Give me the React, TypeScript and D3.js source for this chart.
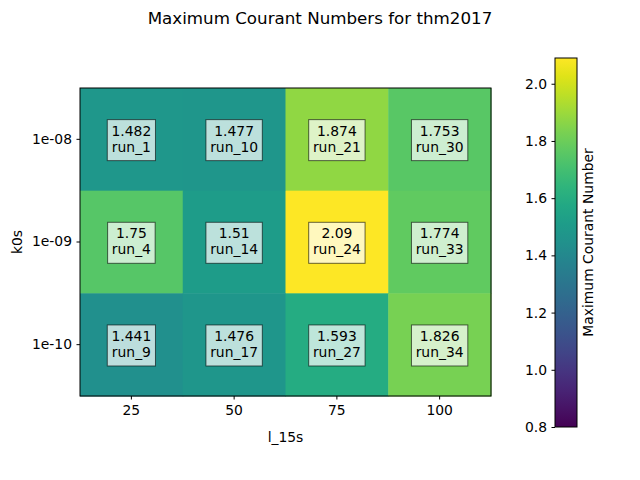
import React, { useEffect, useRef } from "react";
import * as d3 from "d3";

const xCats = ["25", "50", "75", "100"];
const yCats = ["1e-08", "1e-09", "1e-10"];
const values = [
  [1.482, 1.477, 1.874, 1.753],
  [1.75, 1.51, 2.09, 1.774],
  [1.441, 1.476, 1.593, 1.826],
];
const runs = [
  ["run_1", "run_10", "run_21", "run_30"],
  ["run_4", "run_14", "run_24", "run_33"],
  ["run_9", "run_17", "run_27", "run_34"],
];
const valueLabels = [
  ["1.482", "1.477", "1.874", "1.753"],
  ["1.75", "1.51", "2.09", "1.774"],
  ["1.441", "1.476", "1.593", "1.826"],
];
const cbTicks = [0.8, 1.0, 1.2, 1.4, 1.6, 1.8, 2.0];
const cMin = 0.8;
const cMax = 2.09;

const FONT = "DejaVu Sans, sans-serif";

export default function App() {
  const ref = useRef<SVGSVGElement>(null);

  useEffect(() => {
    const svg = d3.select(ref.current);
    svg.selectAll("*").remove();

    const plot = { left: 80, right: 491, top: 88, bottom: 396 };
    const x = d3.scaleBand().domain(xCats).range([plot.left, plot.right]);
    const y = d3.scaleBand().domain(yCats).range([plot.top, plot.bottom]);
    const color = d3.scaleSequential(d3.interpolateViridis).domain([cMin, cMax]);

    // title
    svg.append("text")
      .attr("x", 320).attr("y", 24)
      .attr("text-anchor", "middle")
      .style("font-family", FONT).style("font-size", "16.7px")
      .text("Maximum Courant Numbers for thm2017");

    const g = svg.append("g");
    values.forEach((row, i) => {
      row.forEach((v, j) => {
        g.append("rect")
          .attr("x", x(xCats[j])!)
          .attr("y", y(yCats[i])!)
          .attr("width", x.bandwidth() + 0.5)
          .attr("height", y.bandwidth() + 0.5)
          .attr("fill", color(v));
      });
    });

    // annotations
    const fs = 13.9;
    values.forEach((row, i) => {
      row.forEach((v, j) => {
        const cx = x(xCats[j])! + x.bandwidth() / 2;
        const cy = y(yCats[i])! + y.bandwidth() / 2;
        const grp = g.append("g");
        const rect = grp.append("rect");
        const t = grp.append("text")
          .attr("text-anchor", "middle")
          .style("font-family", FONT).style("font-size", fs + "px");
        t.append("tspan").attr("x", cx).attr("y", cy - 3.6).text(valueLabels[i][j]);
        t.append("tspan").attr("x", cx).attr("y", cy + 12.4).text(runs[i][j]);
        const w = Math.max(
          ...(t.selectAll("tspan").nodes() as SVGTSpanElement[]).map((n) => n.getComputedTextLength())
        );
        const pad = 4.2;
        rect
          .attr("x", cx - w / 2 - pad)
          .attr("y", cy - 19.7)
          .attr("width", w + 2 * pad)
          .attr("height", 41)
          .attr("fill", "rgba(255,255,255,0.7)")
          .attr("stroke", "rgba(0,0,0,0.6)")
          .attr("stroke-width", 1);
      });
    });

    // frame
    svg.append("rect")
      .attr("x", plot.left).attr("y", plot.top)
      .attr("width", plot.right - plot.left).attr("height", plot.bottom - plot.top)
      .attr("fill", "none").attr("stroke", "black").attr("stroke-width", 1);

    const xAxis = svg.append("g")
      .attr("transform", `translate(0,${plot.bottom})`)
      .call(d3.axisBottom(x).tickSize(3.5).tickPadding(5.5).tickSizeOuter(0));
    xAxis.select(".domain").remove();
    xAxis.selectAll("text").style("font-family", FONT).style("font-size", "13.9px").attr("fill", "black");

    const yAxis = svg.append("g")
      .attr("transform", `translate(${plot.left},0)`)
      .call(d3.axisLeft(y).tickSize(3.5).tickPadding(4.5).tickSizeOuter(0));
    yAxis.select(".domain").remove();
    yAxis.selectAll("text").style("font-family", FONT).style("font-size", "13.9px").attr("fill", "black");

    svg.append("text")
      .attr("x", (plot.left + plot.right) / 2).attr("y", 442)
      .attr("text-anchor", "middle")
      .style("font-family", FONT).style("font-size", "13.9px")
      .text("l_15s");

    svg.append("text")
      .attr("transform", `translate(22,${(plot.top + plot.bottom) / 2}) rotate(-90)`)
      .attr("text-anchor", "middle")
      .style("font-family", FONT).style("font-size", "13.9px")
      .text("k0s");

    // colorbar
    const cb = { left: 555, right: 577, top: 58, bottom: 427 };
    const cy = d3.scaleLinear().domain([cMin, cMax]).range([cb.bottom, cb.top]);
    const defs = svg.append("defs");
    const grad = defs.append("linearGradient")
      .attr("id", "cbgrad").attr("x1", 0).attr("y1", 1).attr("x2", 0).attr("y2", 0);
    d3.range(0, 1.0001, 0.05).forEach((s) => {
      grad.append("stop").attr("offset", s).attr("stop-color", d3.interpolateViridis(s));
    });
    svg.append("rect")
      .attr("x", cb.left).attr("y", cb.top)
      .attr("width", cb.right - cb.left).attr("height", cb.bottom - cb.top)
      .attr("fill", "url(#cbgrad)")
      .attr("stroke", "black").attr("stroke-width", 1);

    const cbAxis = svg.append("g")
      .attr("transform", `translate(${cb.left},0)`)
      .call(d3.axisLeft(cy).tickValues(cbTicks).tickFormat(d3.format(".1f")).tickSize(3.5).tickPadding(4.5));
    cbAxis.select(".domain").remove();
    cbAxis.selectAll("text").style("font-family", FONT).style("font-size", "13.9px").attr("fill", "black");

    svg.append("text")
      .attr("transform", `translate(593,${(cb.top + cb.bottom) / 2}) rotate(-90)`)
      .attr("text-anchor", "middle")
      .style("font-family", FONT).style("font-size", "13.9px")
      .text("Maximum Courant Number");
  }, []);

  return (
    <svg ref={ref} width={640} height={480} style={{ position: "absolute", left: 0, top: 0, background: "white" }} />
  );
}
